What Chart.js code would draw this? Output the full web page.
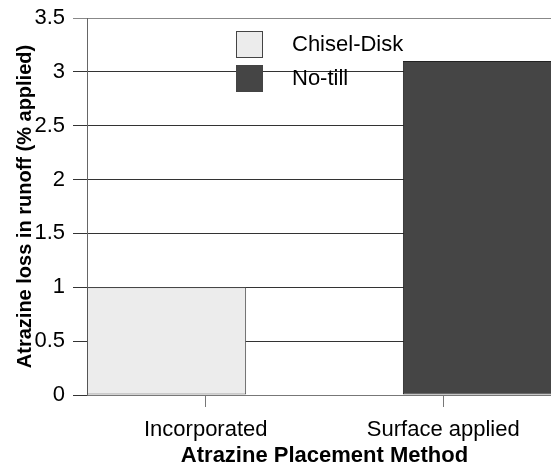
<!DOCTYPE html>
<html>
<head>
<meta charset="utf-8">
<script src="https://cdn.jsdelivr.net/npm/chart.js@4.4.0/dist/chart.umd.min.js"></script>
<style>
    html, body { margin: 0; padding: 0; background: #fff; overflow: hidden; }
    #wrap { width: 551px; height: 468px; overflow: hidden; }
</style>
</head>
<body>
<div id="wrap"><canvas id="myChart" width="562" height="468"></canvas></div>
<script>
// 数据
var categories = ['Incorporated', 'Surface applied'];
var seriesNames = ['Chisel-Disk', 'No-till'];
var chiselDisk = [1.0, null];
var noTill = [null, 3.1];
var yTicks = [0, 0.5, 1, 1.5, 2, 2.5, 3, 3.5];

var fontFamily = "'Liberation Sans', Arial, sans-serif";

// 图例画在绘图区里面
var insideLegend = {
    id: 'insideLegend',
    afterDatasetsDraw: function (chart) {
        var ctx = chart.ctx;
        var area = chart.chartArea;
        ctx.save();
        ctx.font = '22px ' + fontFamily;
        ctx.textBaseline = 'middle';
        ctx.textAlign = 'left';
        chart.data.datasets.forEach(function (ds, i) {
            var bx = area.left + 149;
            var by = 31 + i * 34;
            ctx.fillStyle = ds.backgroundColor;
            ctx.fillRect(bx, by, 27, 27);
            ctx.strokeStyle = '#444';
            ctx.lineWidth = 1;
            ctx.strokeRect(bx + 0.5, by + 0.5, 26, 26);
            ctx.fillStyle = '#000';
            ctx.fillText(ds.label, bx + 56, by + 14);
        });
        ctx.restore();
    }
};

document.addEventListener('DOMContentLoaded', function () {
    var ctx = document.getElementById('myChart').getContext('2d');
    new Chart(ctx, {
        type: 'bar',
        data: {
            labels: categories,
            datasets: [
                {
                    label: seriesNames[0],
                    data: chiselDisk,
                    backgroundColor: '#ececec',
                    borderColor: '#555555',
                    borderWidth: 1,
                    borderSkipped: false
                },
                {
                    label: seriesNames[1],
                    data: noTill,
                    backgroundColor: '#454545',
                    borderColor: '#222222',
                    borderWidth: 1,
                    borderSkipped: false
                }
            ]
        },
        options: {
            responsive: false,
            animation: false,
            categoryPercentage: 0.66,
            barPercentage: 2.03,
            layout: { padding: { top: 18, right: 0, left: 0, bottom: 0 } },
            plugins: {
                legend: { display: false },
                tooltip: { enabled: false }
            },
            scales: {
                x: {
                    afterFit: function (scale) { scale.height = 73; },
                    grid: {
                        offset: false,
                        drawOnChartArea: false,
                        tickLength: 12,
                        color: '#777'
                    },
                    border: { color: '#777' },
                    ticks: {
                        padding: 10,
                        color: '#000',
                        font: { family: fontFamily, size: 22 }
                    },
                    title: {
                        display: true,
                        text: 'Atrazine Placement Method',
                        color: '#000',
                        padding: { top: 0, bottom: 0 },
                        font: { family: fontFamily, size: 22, weight: 'bold', lineHeight: 1.1 }
                    }
                },
                y: {
                    min: 0,
                    max: 3.5,
                    afterFit: function (scale) {
                        scale.width = 87;
                        scale.paddingTop = 0;
                    },
                    afterBuildTicks: function (scale) {
                        scale.ticks = yTicks.map(function (v) { return { value: v }; });
                    },
                    grid: {
                        tickLength: 14,
                        color: function (c) {
                            return c.tick && c.tick.value === 3.5 ? '#888' : '#333';
                        }
                    },
                    border: { color: '#666' },
                    ticks: {
                        padding: 8,
                        color: '#000',
                        font: { family: fontFamily, size: 22 },
                        callback: function (v) { return String(v); }
                    },
                    title: {
                        display: true,
                        text: 'Atrazine loss in runoff (% applied)',
                        color: '#000',
                        padding: { top: 13, bottom: 0 },
                        font: { family: fontFamily, size: 20, weight: 'bold' }
                    }
                }
            }
        },
        plugins: [insideLegend]
    });
});
</script>
</body>
</html>
